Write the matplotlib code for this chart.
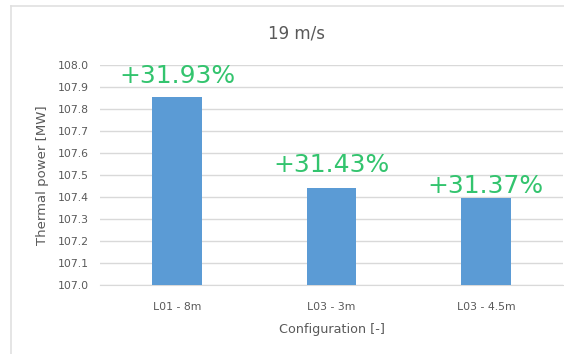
import matplotlib.pyplot as plt
from matplotlib.lines import Line2D

configs = ["L01 - 8m", "L03 - 3m", "L03 - 4.5m"]
power = [107.853, 107.441, 107.395]
gain = ["+31.93%", "+31.43%", "+31.37%"]
yticks = [107.0, 107.1, 107.2, 107.3, 107.4, 107.5, 107.6, 107.7, 107.8, 107.9, 108.0]

# label lift above each bar, in pixels
lift = [14, 16, 5]

grey = "#595959"
fig = plt.figure(figsize=(5.64, 3.54), dpi=100)
ax = fig.add_axes([100 / 564, 1 - 285 / 354, 463 / 564, 220 / 354])

x = range(len(configs))
bars = ax.bar(x, power, width=0.32, color="#5b9bd5", zorder=3)
for b, txt, dy in zip(bars, gain, lift):
    ax.annotate(txt, (b.get_x() + b.get_width() / 2, b.get_height()),
                xytext=(0, dy), textcoords="offset pixels",
                ha="center", va="baseline", fontsize=18, color="#33c46e",
                zorder=4, annotation_clip=False)

ax.set_xlim(-0.5, len(configs) - 0.5)
ax.set_ylim(107.0, 108.0)
ax.set_yticks(yticks)
ax.set_yticklabels([f"{t:.1f}" for t in yticks])
ax.set_xticks(list(x))
ax.set_xticklabels(configs)
ax.yaxis.grid(True, color="#d9d9d9", linewidth=1, zorder=0)
ax.tick_params(length=0, labelsize=7.8, colors=grey, pad=8)
ax.tick_params(axis="x", pad=12)
for s in ["top", "right", "left"]:
    ax.spines[s].set_visible(False)
ax.spines["bottom"].set_color("#d9d9d9")
ax.set_ylabel("Thermal power [MW]", fontsize=9.5, color=grey, labelpad=6)
ax.set_xlabel("Configuration [-]", fontsize=9.2, color=grey, labelpad=8)
fig.text(297 / 564, 1 - 33 / 354, "19 m/s", ha="center", va="center",
         fontsize=12, color=grey)

# chart frame
fig.add_artist(Line2D([11 / 564, 11 / 564], [0, 1 - 6 / 354], color="#e0e0e0", lw=1.2))
fig.add_artist(Line2D([11 / 564, 1], [1 - 6 / 354, 1 - 6 / 354], color="#e0e0e0", lw=1.2))

fig.savefig("out.png", dpi=100)
